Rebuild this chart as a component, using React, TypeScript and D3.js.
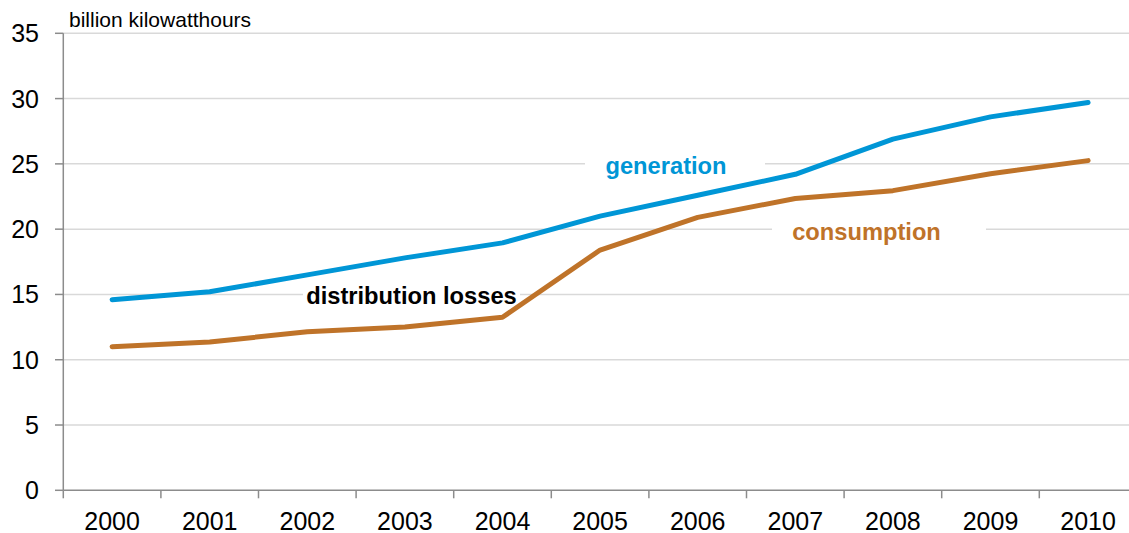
import React from "react";
import * as d3 from "d3";

// Electricity generation vs. consumption, billion kilowatthours
const years: string[] = ["2000", "2001", "2002", "2003", "2004", "2005", "2006", "2007", "2008", "2009", "2010"];
const generation: number[] = [14.6, 15.2, 16.5, 17.8, 18.95, 21.0, 22.6, 24.2, 26.9, 28.6, 29.7];
const consumption: number[] = [11.0, 11.35, 12.15, 12.5, 13.25, 18.4, 20.9, 22.35, 22.95, 24.25, 25.25];
const yTicks: number[] = [0, 5, 10, 15, 20, 25, 30, 35];

const W = 1129;
const H = 533;
const FONT = "'Liberation Sans', Arial, Helvetica, sans-serif";
const BLUE = "#0096d6";
const ORANGE = "#bf7329";
const GRID = "#d9d9d9";
const AXIS = "#8c8c8c";

export default function App() {
  const left = 63.3;
  const band = 97.6;
  const x = d3.scaleBand<string>().domain(years).range([left, left + band * years.length]).padding(0);
  const y = d3.scaleLinear().domain([0, 35]).range([490.3, 33.3]);
  const cx = (yr: string) => (x(yr) as number) + x.bandwidth() / 2;

  const line = d3
    .line<number>()
    .x((_, i) => cx(years[i]))
    .y((v) => y(v));

  const tickBounds = d3.range(years.length + 1).map((i) => left + i * band).filter((v) => v <= W);

  return (
    <svg width={W} height={H} style={{ position: "absolute", left: 0, top: 0, background: "#fff" }} fontFamily={FONT}>
      {/* horizontal gridlines */}
      {yTicks.filter((t) => t > 0).map((t) => (
        <line key={t} x1={left} x2={W} y1={y(t)} y2={y(t)} stroke={GRID} strokeWidth={1.5} />
      ))}

      {/* white boxes behind the series labels hide the gridlines */}
      <rect x={585} y={150} width={180} height={30} fill="#fff" />
      <rect x={772} y={216} width={214} height={30} fill="#fff" />
      <rect x={303} y={283} width={217} height={26} fill="#fff" />

      {/* y axis */}
      <line x1={left} x2={left} y1={y(35)} y2={y(0)} stroke={AXIS} strokeWidth={1.5} />
      {yTicks.map((t) => (
        <g key={t}>
          <line x1={55} x2={left} y1={y(t)} y2={y(t)} stroke={AXIS} strokeWidth={1.5} />
          <text x={39} y={y(t)} dy="0.36em" textAnchor="end" fontSize={25} fill="#000">
            {t}
          </text>
        </g>
      ))}

      {/* x axis */}
      <line x1={left} x2={W} y1={y(0)} y2={y(0)} stroke={AXIS} strokeWidth={1.5} />
      {tickBounds.map((b, i) => (
        <line key={i} x1={b} x2={b} y1={y(0)} y2={y(0) + 8} stroke={AXIS} strokeWidth={1.5} />
      ))}
      {years.map((yr) => (
        <text key={yr} x={cx(yr)} y={530} textAnchor="middle" fontSize={25} fill="#000">
          {yr}
        </text>
      ))}

      <text x={69} y={27} fontSize={21} fill="#000">
        billion kilowatthours
      </text>

      {/* series */}
      <path d={line(generation) || ""} fill="none" stroke={BLUE} strokeWidth={5} strokeLinecap="round" strokeLinejoin="round" />
      <path d={line(consumption) || ""} fill="none" stroke={ORANGE} strokeWidth={5} strokeLinecap="round" strokeLinejoin="round" />

      {/* series labels */}
      <text x={666} y={173.5} textAnchor="middle" fontSize={23.7} fontWeight="bold" fill={BLUE}>
        generation
      </text>
      <text x={866.5} y={240} textAnchor="middle" fontSize={23.7} fontWeight="bold" fill={ORANGE}>
        consumption
      </text>
      <text x={411.5} y={304} textAnchor="middle" fontSize={23.7} fontWeight="bold" fill="#000">
        distribution losses
      </text>
    </svg>
  );
}
